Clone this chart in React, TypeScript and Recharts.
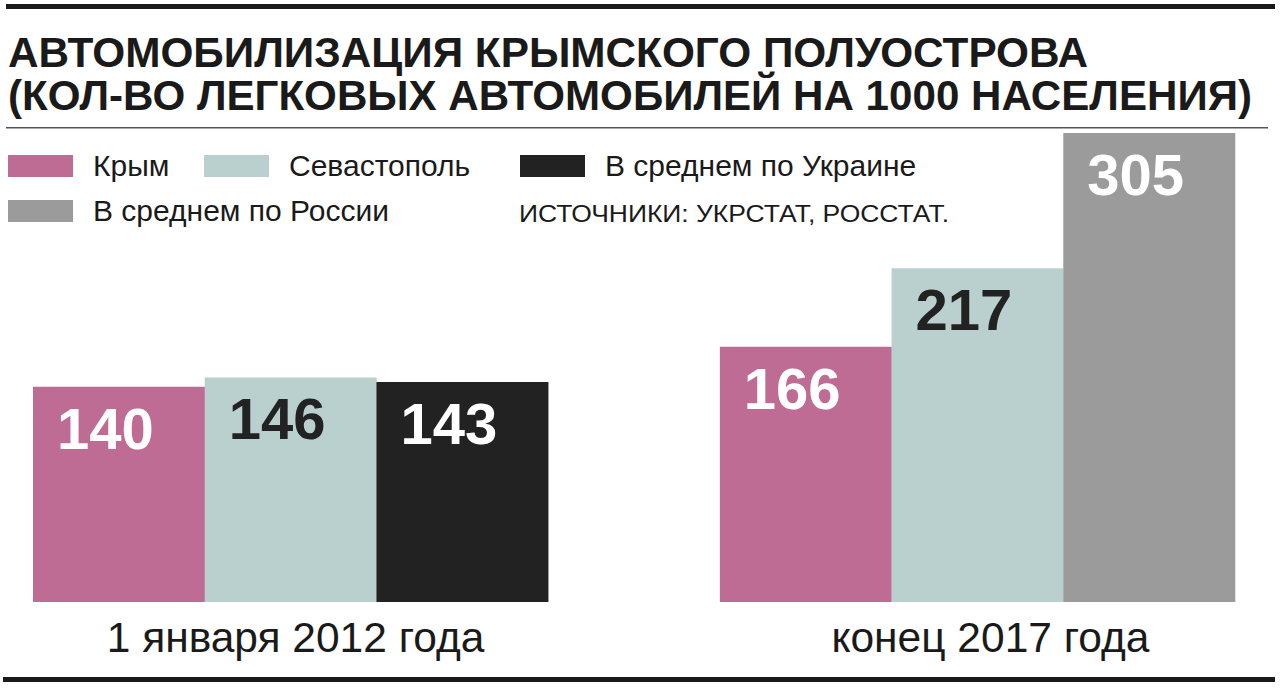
import { BarChart, Bar, XAxis, YAxis, Cell, LabelList } from "recharts";

const TITLE = ["АВТОМОБИЛИЗАЦИЯ КРЫМСКОГО ПОЛУОСТРОВА", "(КОЛ-ВО ЛЕГКОВЫХ АВТОМОБИЛЕЙ НА 1000 НАСЕЛЕНИЯ)"];
const SOURCE = "ИСТОЧНИКИ: УКРСТАТ, РОССТАТ.";

const groups = ["1 января 2012 года", "конец 2017 года"];
const series2012 = ["Крым", "Севастополь", "В среднем по Украине"];
const values2012 = [140, 146, 143];
const series2017 = ["Крым", "Севастополь", "В среднем по России"];
const values2017 = [166, 217, 305];

const COLORS: Record<string, string> = {
  "Крым": "#BE6C93",
  "Севастополь": "#B9D0CF",
  "В среднем по Украине": "#222222",
  "В среднем по России": "#9B9B9B",
};
const LABEL_DARK = new Set(["Севастополь"]);

const FONT = "'Liberation Sans', Arial, sans-serif";

// 7 slots: three bars, one empty slot as the gap, three bars
const data = [
  ...series2012.map((s, i) => ({ key: `a${i}`, series: s, group: i === 1 ? groups[0] : "", value: values2012[i] })),
  { key: "gap", series: "", group: "", value: null as number | null },
  ...series2017.map((s, i) => ({ key: `b${i}`, series: s, group: i === 1 ? groups[1] : "", value: values2017[i] })),
];

function ValueLabel(props: any) {
  const { x, y, value } = props;
  if (value == null) return null;
  const s = data.find((d) => d.value === value)?.series || "";
  return (
    <text x={x + 24} y={y + 62} fill={LABEL_DARK.has(s) ? "#222" : "#fff"} fontFamily={FONT} fontWeight={700} fontSize={58}>
      {value}
    </text>
  );
}

function GroupTick(props: any) {
  const { x, y, payload } = props;
  const label = data[payload.index]?.group;
  if (!label) return null;
  return (
    <text x={x + (payload.index > 3 ? 13 : 5)} y={y + 50} textAnchor="middle" fill="#1a1a1a" fontFamily={FONT} fontSize={42.5}>
      {label}
    </text>
  );
}

const legendRow1 = ["Крым", "Севастополь", "В среднем по Украине"];
const legendX = [8, 204, 520];

export default function App() {
  return (
    <div style={{ position: "absolute", left: 0, top: 0, width: 1280, height: 690, background: "#fff", overflow: "hidden" }}>
      <BarChart width={1280} height={690} data={data} margin={{ top: 133, right: 45, bottom: 0, left: 33 }} barCategoryGap={0} barGap={0}>
        <XAxis dataKey="key" axisLine={false} tickLine={false} tickSize={0} tickMargin={0} height={88} interval={0} tick={<GroupTick />} />
        <YAxis hide domain={[0, 305]} />
        <Bar dataKey="value" isAnimationActive={false}>
          {data.map((d) => (
            <Cell key={d.key} fill={COLORS[d.series] || "transparent"} />
          ))}
          <LabelList dataKey="value" content={<ValueLabel />} />
        </Bar>
      </BarChart>
      <svg width={1280} height={690} style={{ position: "absolute", left: 0, top: 0, pointerEvents: "none" }}>
        <rect x={6} y={4} width={1269} height={5} fill="#1a1a1a" />
        <text x={8} y={67} fontFamily={FONT} fontWeight={700} fontSize={42} fill="#1a1a1a" textLength={1080} lengthAdjust="spacingAndGlyphs">{TITLE[0]}</text>
        <text x={8} y={110} fontFamily={FONT} fontWeight={700} fontSize={42} fill="#1a1a1a" textLength={1244} lengthAdjust="spacingAndGlyphs">{TITLE[1]}</text>
        <rect x={6} y={127} width={1262} height={1.5} fill="#555" />
        {legendRow1.map((s, i) => (
          <g key={s}>
            <rect x={legendX[i]} y={155} width={65} height={22} fill={COLORS[s]} />
            <text x={legendX[i] + 85} y={176} fontFamily={FONT} fontSize={30} fill="#1a1a1a">{s}</text>
          </g>
        ))}
        <rect x={8} y={200} width={65} height={22} fill={COLORS["В среднем по России"]} />
        <text x={93} y={221} fontFamily={FONT} fontSize={30} fill="#1a1a1a">В среднем по России</text>
        <text x={519} y={222} fontFamily={FONT} fontSize={24} fill="#1a1a1a" textLength={430} lengthAdjust="spacingAndGlyphs">{SOURCE}</text>
        <rect x={3} y={677} width={1272} height={5} fill="#1a1a1a" />
      </svg>
    </div>
  );
}
